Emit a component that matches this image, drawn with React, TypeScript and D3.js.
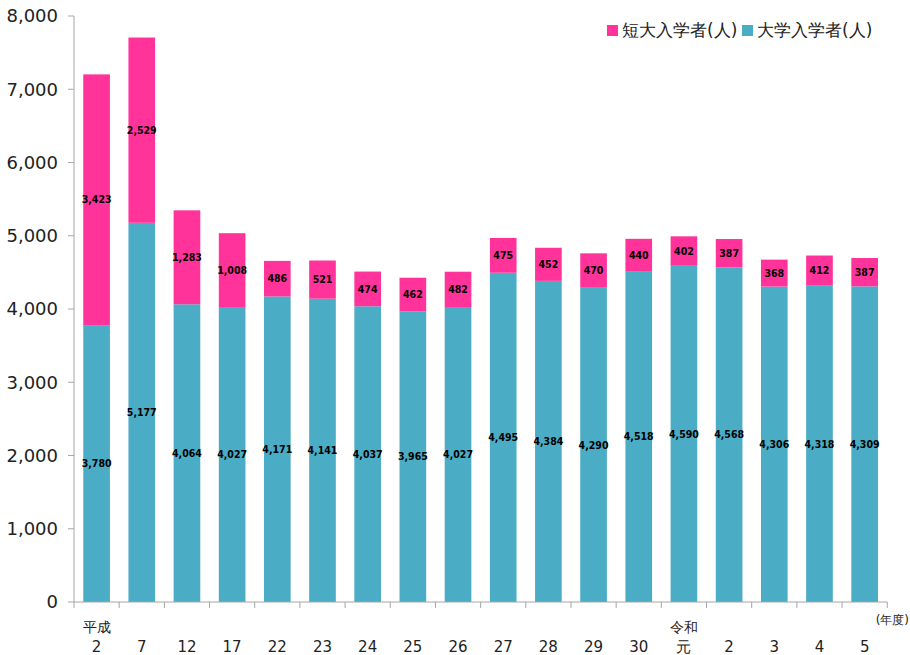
import React from "react";
import * as d3 from "d3";

const categories = ["2", "7", "12", "17", "22", "23", "24", "25", "26", "27", "28", "29", "30", "元", "2", "3", "4", "5"];
const eraLabels = ["平成", "", "", "", "", "", "", "", "", "", "", "", "", "令和", "", "", "", ""];
const university = [3780, 5177, 4064, 4027, 4171, 4141, 4037, 3965, 4027, 4495, 4384, 4290, 4518, 4590, 4568, 4306, 4318, 4309];
const juniorCollege = [3423, 2529, 1283, 1008, 486, 521, 474, 462, 482, 475, 452, 470, 440, 402, 387, 368, 412, 387];
const yTicks = [0, 1000, 2000, 3000, 4000, 5000, 6000, 7000, 8000];
const legendLabels = ["短大入学者(人)", "大学入学者(人)"];

const PINK = "#FF3399";
const BLUE = "#4BACC6";
const FONT = "'DejaVu Sans', Verdana, sans-serif";
const LABEL_FONT = "'DejaVu Sans Condensed', 'DejaVu Sans', sans-serif";

export default function App() {
  const W = 910, H = 655;
  const x0 = 74, yTop = 16, yBot = 602;
  const n = categories.length;
  const stepPx = 45.18;
  const x1 = x0 + n * stepPx;
  const x = d3.scaleBand<number>().domain(d3.range(n)).range([x0, x1]).paddingInner(0.41).paddingOuter(0.205);
  const y = d3.scaleLinear().domain([0, 8000]).range([yBot, yTop]);
  const step = x.step();
  const bw = x.bandwidth();
  const fmt = d3.format(",");
  return (
    <svg width={W} height={H} style={{ position: "absolute", left: 0, top: 0, fontFamily: FONT }}>
      <rect width={W} height={H} fill="#fff" />
      {/* y axis */}
      <line x1={x0} x2={x0} y1={yTop} y2={yBot} stroke="#a6a6a6" />
      {yTicks.map((t) => (
        <g key={t}>
          <line x1={x0 - 6} x2={x0} y1={y(t)} y2={y(t)} stroke="#a6a6a6" />
          <text x={58} y={y(t)} dy="0.35em" textAnchor="end" fontSize={18} fill="#222">{fmt(t)}</text>
        </g>
      ))}
      {/* bars */}
      {categories.map((c, i) => {
        const bx = x(i)!;
        const u = university[i], j = juniorCollege[i];
        return (
          <g key={i}>
            <rect x={bx} y={y(u)} width={bw} height={y(0) - y(u)} fill={BLUE} />
            <rect x={bx} y={y(u + j)} width={bw} height={y(u) - y(u + j)} fill={PINK} />
            <text x={bx + bw / 2} y={y(u / 2)} dy="0.35em" textAnchor="middle" fontSize={10.5} fontWeight="bold" fontFamily={LABEL_FONT} fill="#000">{fmt(u)}</text>
            <text x={bx + bw / 2} y={y(u + j / 2)} dy="0.35em" textAnchor="middle" fontSize={10.5} fontWeight="bold" fontFamily={LABEL_FONT} fill="#000">{fmt(j)}</text>
          </g>
        );
      })}
      {/* x axis */}
      <line x1={x0} x2={x1} y1={yBot} y2={yBot} stroke="#a6a6a6" />
      {d3.range(n + 1).map((i) => (
        <line key={i} x1={x0 + i * step} x2={x0 + i * step} y1={yBot} y2={yBot + 6} stroke="#a6a6a6" />
      ))}
      {categories.map((c, i) => (
        <g key={i}>
          <text x={x(i)! + bw / 2} y={652} textAnchor="middle" fontSize={15} fill="#222">{c}</text>
          {eraLabels[i] && (
            <text x={x(i)! + bw / 2} y={632} textAnchor="middle" fontSize={14} fill="#222">{eraLabels[i]}</text>
          )}
        </g>
      ))}
      <text x={909} y={624} textAnchor="end" fontSize={12} fill="#222">(年度)</text>
      {/* legend */}
      <rect x={607} y={25} width={11} height={11} fill={PINK} />
      <text x={622} y={30.5} dy="0.35em" fontSize={17} fill="#222">{legendLabels[0]}</text>
      <rect x={742} y={25} width={11} height={11} fill={BLUE} />
      <text x={757} y={30.5} dy="0.35em" fontSize={17} fill="#222">{legendLabels[1]}</text>
    </svg>
  );
}
